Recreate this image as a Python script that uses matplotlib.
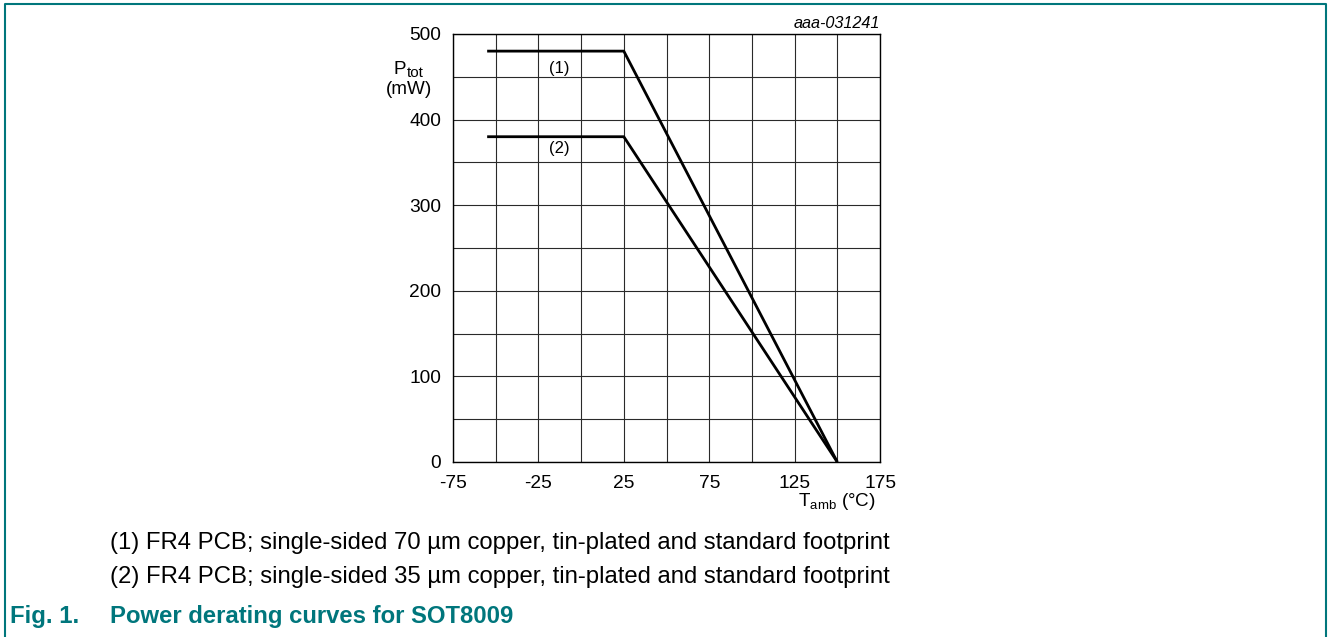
import matplotlib
matplotlib.use("Agg")
import matplotlib.pyplot as plt
from matplotlib.lines import Line2D

plt.rcParams['font.family'] = ['Liberation Sans', 'DejaVu Sans']
plt.rcParams['mathtext.fontset'] = 'custom'
plt.rcParams['mathtext.rm'] = 'Liberation Sans'
plt.rcParams['mathtext.it'] = 'Liberation Sans:italic'
plt.rcParams['axes.unicode_minus'] = False

# Derating curves (Tamb in degC, Ptot in mW)
temp_1 = [-55, 25, 150]
ptot_1 = [480, 480, 0]
temp_2 = [-55, 25, 150]
ptot_2 = [380, 380, 0]

x_ticks = [-75, -25, 25, 75, 125, 175]
y_ticks = [0, 100, 200, 300, 400, 500]
notes = [
    "(1) FR4 PCB; single-sided 70 \u00b5m copper, tin-plated and standard footprint",
    "(2) FR4 PCB; single-sided 35 \u00b5m copper, tin-plated and standard footprint",
]
teal = "#00767c"

fig = plt.figure(figsize=(13.3, 6.37), dpi=100)
W, H = 1330, 637
ax = fig.add_axes([453 / W, 1 - 462 / H, 427 / W, 428 / H])

ax.set_xlim(-75, 175)
ax.set_ylim(0, 500)
for v in range(-75, 176, 25):
    ax.axvline(v, color="#2a2a2a", lw=0.8, zorder=1)
for v in range(0, 501, 50):
    ax.axhline(v, color="#2a2a2a", lw=0.8, zorder=1)

ax.plot(temp_1, ptot_1, color="black", lw=2.0, zorder=3, solid_capstyle="butt")
ax.plot(temp_2, ptot_2, color="black", lw=2.0, zorder=3, solid_capstyle="butt")

ax.text(-12.5, 460, "(1)", fontsize=12, ha="center", va="center")
ax.text(-12.5, 366, "(2)", fontsize=12, ha="center", va="center")

ax.set_xticks(x_ticks)
ax.set_yticks(y_ticks)
ax.tick_params(axis="x", length=0, labelsize=13.8, pad=9)
ax.tick_params(axis="y", length=0, labelsize=13.8, pad=8.5)
for s in ax.spines.values():
    s.set_linewidth(1.0)

ax.text(1.0, 1.008, "aaa-031241", transform=ax.transAxes, ha="right", va="bottom",
        fontsize=11.7, style="italic")

# axis labels with subscripts drawn a bit larger than mathtext default
fig.text(406 / W, 1 - 69 / H, "P", ha="right", va="center", fontsize=13.6)
fig.text(407 / W, 1 - 73 / H, "tot", ha="left", va="center", fontsize=11)
fig.text(409 / W, 1 - 89 / H, "(mW)", ha="center", va="center", fontsize=13.6)
fig.text(876 / W, 1 - 501 / H, "T$_{\\rm amb}$ (\u00b0C)", ha="right", va="center",
         fontsize=13.6)

fig.text(110 / W, 1 - 543 / H, notes[0], ha="left", va="center", fontsize=17.2)
fig.text(110 / W, 1 - 577 / H, notes[1], ha="left", va="center", fontsize=17.2)
fig.text(10 / W, 1 - 617 / H, "Fig. 1.", ha="left", va="center", fontsize=17.2,
         fontweight="bold", color=teal)
fig.text(110 / W, 1 - 617 / H, "Power derating curves for SOT8009", ha="left", va="center",
         fontsize=17.2, fontweight="bold", color=teal)

# teal frame: top, left, right (open at bottom)
fig.add_artist(Line2D([5 / W, 5 / W, 1326 / W, 1326 / W],
                      [0, 1 - 4 / H, 1 - 4 / H, 0],
                      transform=fig.transFigure, color=teal, lw=1.5))

fig.savefig("out.png", dpi=100)
